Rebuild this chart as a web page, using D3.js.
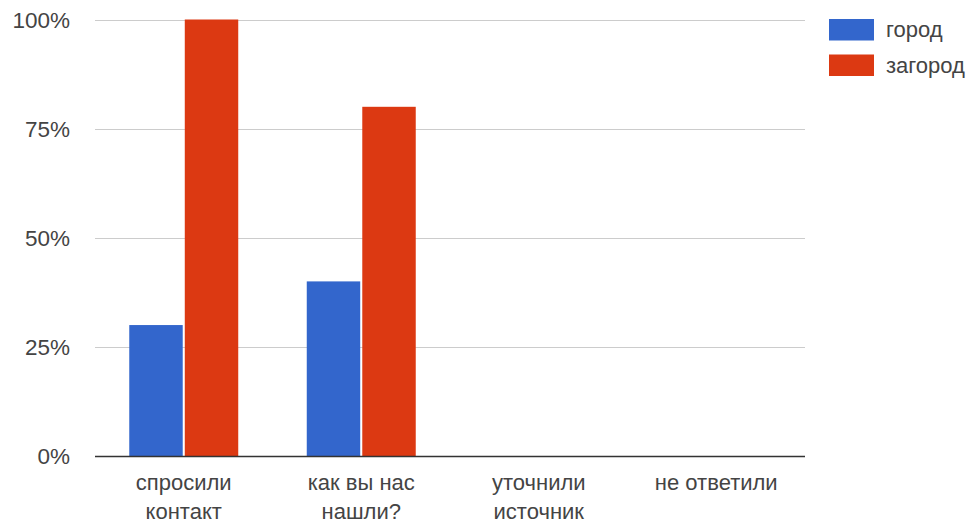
<!DOCTYPE html>
<html>
<head>
<meta charset="utf-8">
<script src="https://cdn.jsdelivr.net/npm/d3@7"></script>
<style>
  html, body { margin: 0; padding: 0; background: #fff; }
  svg { display: block; }
  text { font-family: Arial, "Liberation Sans", sans-serif; fill: #444; }
</style>
</head>
<body>
<svg id="chart" width="971" height="523"></svg>
<script>
const categories = [
  ["спросили", "контакт"],
  ["как вы нас", "нашли?"],
  ["уточнили", "источник"],
  ["не ответили"]
];
const seriesNames = ["город", "загород"];
const seriesColors = ["#3366cc", "#dc3912"];
const gorodValues = [0.30, 0.40, 0, 0];
const zagorodValues = [1.00, 0.80, 0, 0];
const yTicks = [0, 0.25, 0.5, 0.75, 1];
const yTickLabels = ["0%", "25%", "50%", "75%", "100%"];

const svg = d3.select("#chart");
const plot = { left: 95, right: 805, top: 19.5, bottom: 456 };

const catKeys = categories.map((c, i) => i);
const x0 = d3.scaleBand().domain(catKeys).range([plot.left, plot.right])
  .paddingInner(0.386).paddingOuter(0.193);
const x1 = d3.scaleBand().domain(seriesNames).range([0, x0.bandwidth()]).paddingInner(0.037);
const y = d3.scaleLinear().domain([0, 1]).range([plot.bottom, plot.top]);

// gridlines
svg.append("g").selectAll("line").data(yTicks.filter(t => t > 0)).join("line")
  .attr("x1", plot.left).attr("x2", plot.right)
  .attr("y1", d => Math.round(y(d)) + 0.5).attr("y2", d => Math.round(y(d)) + 0.5)
  .attr("stroke", "#cccccc").attr("stroke-width", 1);

// y tick labels
svg.append("g").selectAll("text").data(yTicks).join("text")
  .attr("x", 70).attr("y", d => y(d))
  .attr("dy", "0.36em")
  .attr("text-anchor", "end")
  .style("font-size", "22.5px")
  .text((d, i) => yTickLabels[i]);

// bars
const data = catKeys.map(i => ({ i, vals: [gorodValues[i], zagorodValues[i]] }));
const groups = svg.append("g").selectAll("g").data(data).join("g")
  .attr("transform", d => `translate(${x0(d.i)},0)`);
groups.selectAll("rect").data(d => d.vals.map((v, k) => ({ v, k }))).join("rect")
  .filter(d => d.v > 0)
  .attr("x", d => x1(seriesNames[d.k]))
  .attr("width", x1.bandwidth())
  .attr("y", d => y(d.v))
  .attr("height", d => y(0) - y(d.v))
  .attr("fill", d => seriesColors[d.k]);

// baseline
svg.append("line")
  .attr("x1", plot.left).attr("x2", plot.right)
  .attr("y1", Math.round(y(0)) + 0.5).attr("y2", Math.round(y(0)) + 0.5)
  .attr("stroke", "#333333").attr("stroke-width", 1.5);

// category labels
const catG = svg.append("g");
categories.forEach((lines, i) => {
  const cx = x0(i) + x0.bandwidth() / 2;
  const t = catG.append("text").attr("text-anchor", "middle").style("font-size", "22px");
  lines.forEach((ln, j) => {
    t.append("tspan").attr("x", cx).attr("y", 490 + j * 28.5).text(ln);
  });
});

// legend
const leg = svg.append("g");
seriesNames.forEach((name, k) => {
  const ly = 19 + k * 35.5;
  leg.append("rect").attr("x", 829).attr("y", ly).attr("width", 45).attr("height", 21.5)
    .attr("fill", seriesColors[k]);
  leg.append("text").attr("x", 886).attr("y", ly + 10.5).attr("dy", "0.36em")
    .style("font-size", "22px").text(name);
});
</script>
</body>
</html>
